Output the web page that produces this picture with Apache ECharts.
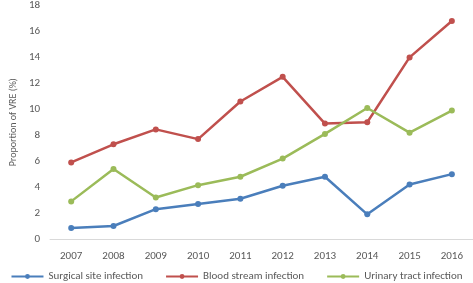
<!DOCTYPE html>
<html>
<head>
<meta charset="utf-8">
<script src="https://cdn.jsdelivr.net/npm/echarts@6/dist/echarts.min.js"></script>
<style>
  html, body { margin: 0; padding: 0; background: #fff; }
  #chart { width: 473px; height: 283px; }
</style>
</head>
<body>
<div id="chart"></div>
<script>
"use strict";

let years = ["2007", "2008", "2009", "2010", "2011", "2012", "2013", "2014", "2015", "2016"];
let surgicalSite = [0.85, 1.0, 2.3, 2.7, 3.1, 4.1, 4.8, 1.9, 4.2, 5.0];
let bloodStream = [5.9, 7.3, 8.45, 7.7, 10.6, 12.5, 8.9, 9.0, 14.0, 16.8];
let urinaryTract = [2.9, 5.4, 3.2, 4.15, 4.8, 6.2, 8.1, 10.1, 8.2, 9.9];

let font = "Calibri, 'Open Sans', 'Liberation Sans', sans-serif";
let textColor = "#595959";

function makeSeries(name, data, color) {
    return {
        name: name,
        type: "line",
        data: data,
        symbol: "circle",
        symbolSize: 6,
        lineStyle: { color: color, width: 2.5 },
        itemStyle: { color: color },
        emphasis: { disabled: true }
    };
}

let chart = echarts.init(document.getElementById("chart"));
chart.setOption({
    animation: false,
    grid: { left: 35, right: 0, top: 4, bottom: 44 },
    legend: {
        bottom: -4,
        left: "center",
        itemWidth: 32,
        itemHeight: 6,
        itemGap: 22,
        textStyle: { fontFamily: font, fontSize: 11, color: textColor },
        data: ["Surgical site infection", "Blood stream infection", "Urinary tract infection"]
    },
    xAxis: {
        type: "category",
        data: years,
        boundaryGap: true,
        axisLine: { lineStyle: { color: "#d9d9d9" } },
        axisTick: { show: false },
        axisLabel: { fontFamily: font, fontSize: 11, color: textColor, margin: 12 }
    },
    yAxis: {
        type: "value",
        min: 0,
        max: 18,
        interval: 2,
        name: "Proportion of VRE (%)",
        nameLocation: "middle",
        nameGap: 28,
        nameTextStyle: { fontFamily: font, fontSize: 10, color: textColor },
        axisLine: { show: false },
        axisTick: { show: false },
        splitLine: { show: false },
        axisLabel: { fontFamily: font, fontSize: 11, color: textColor, margin: 10 }
    },
    series: [
        makeSeries("Surgical site infection", surgicalSite, "#4a7ebb"),
        makeSeries("Blood stream infection", bloodStream, "#c0504d"),
        makeSeries("Urinary tract infection", urinaryTract, "#9bbb59")
    ]
});
</script>
</body>
</html>
